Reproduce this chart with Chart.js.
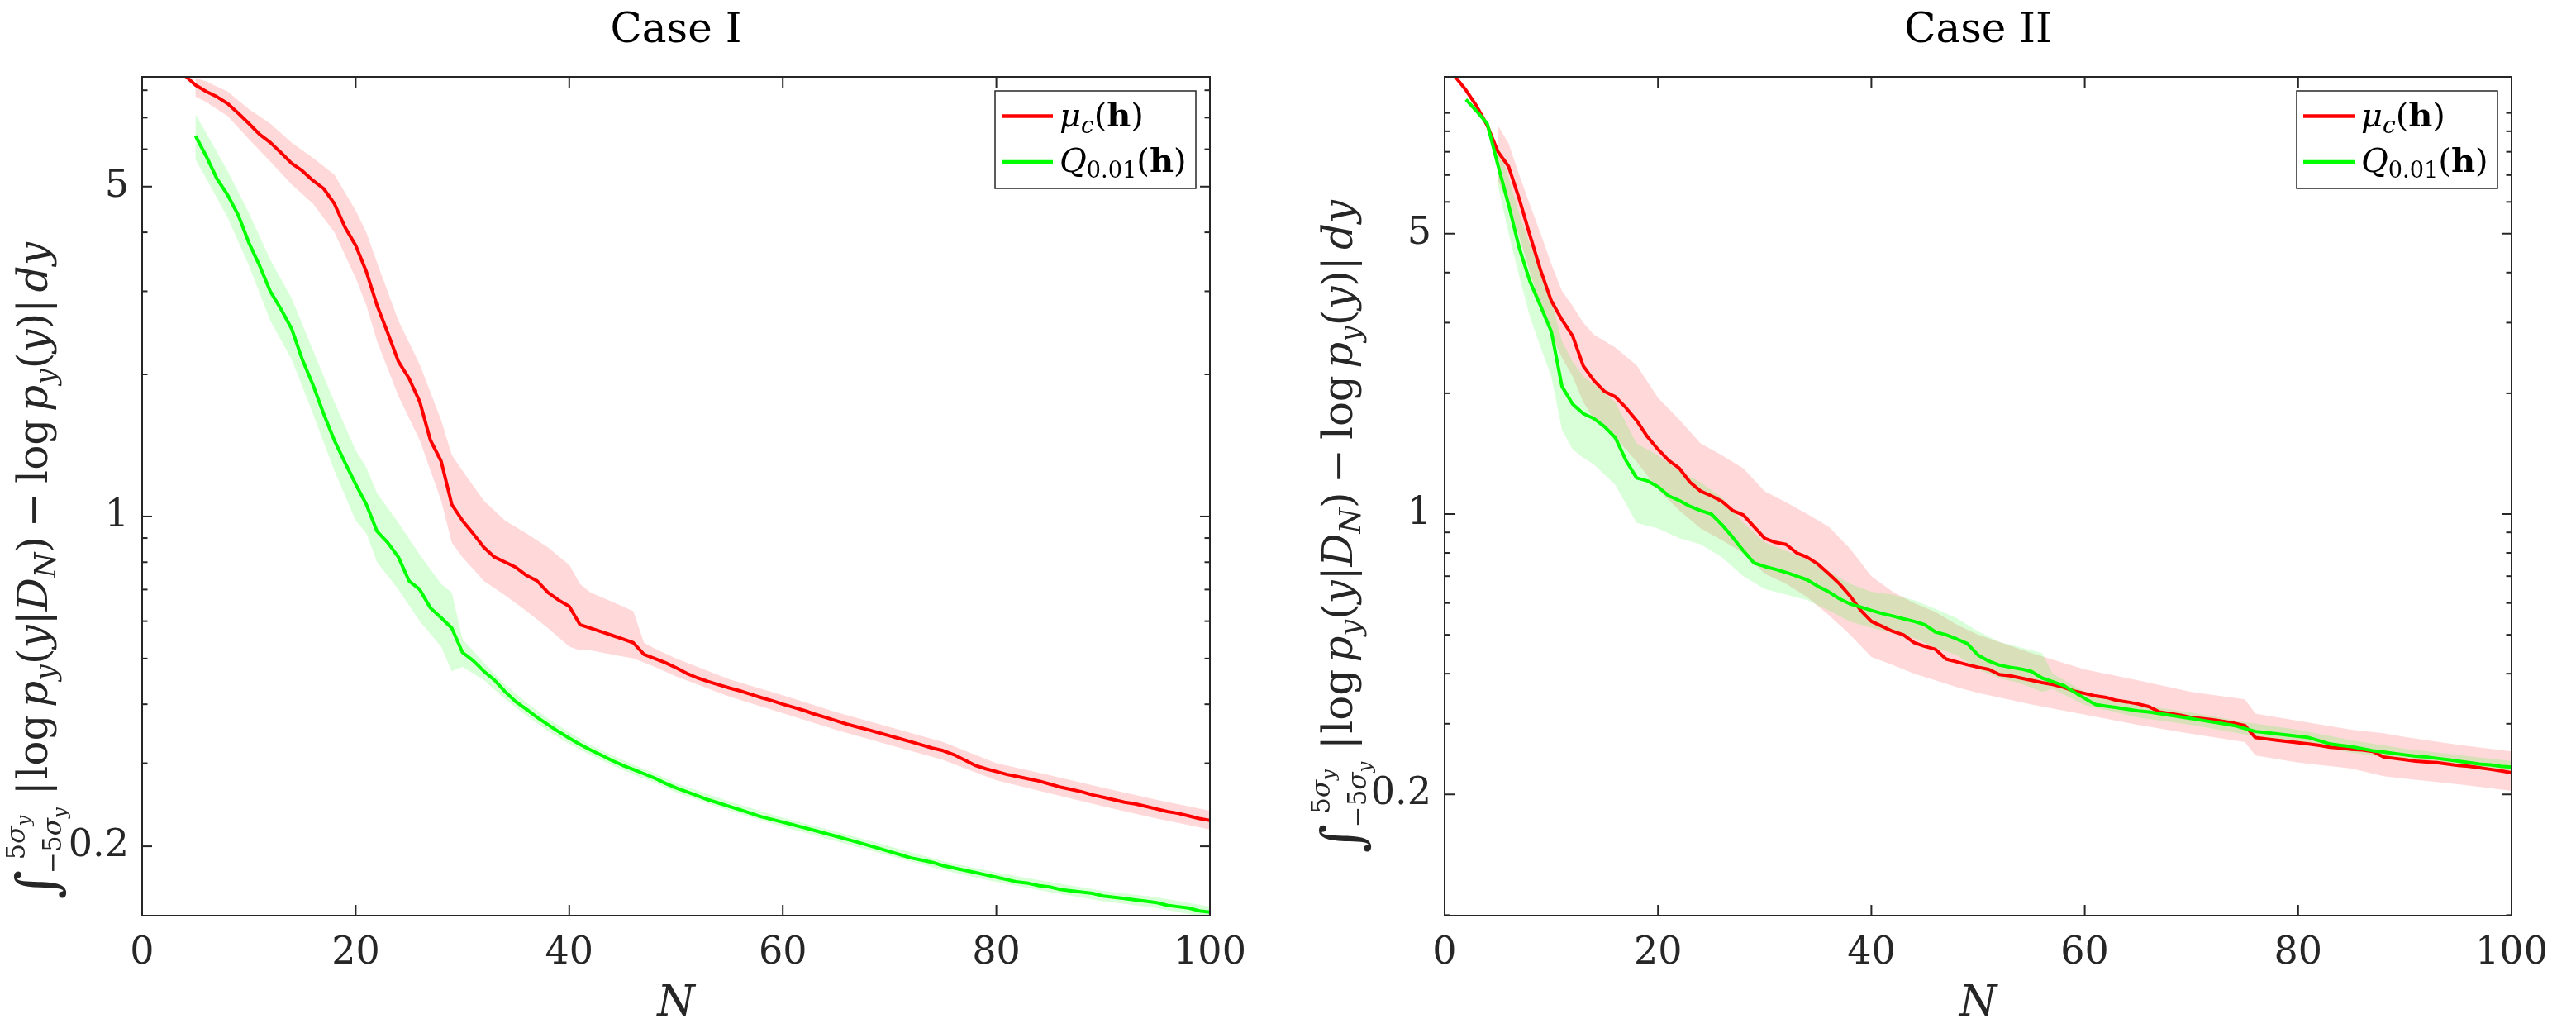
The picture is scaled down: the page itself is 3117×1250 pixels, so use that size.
<!DOCTYPE html>
<html>
<head>
<meta charset="utf-8">
<script src="https://cdn.jsdelivr.net/npm/chart.js@4.4.1/dist/chart.umd.min.js"></script>
<style>
  body { margin: 0; background: #fff; width: 3117px; height: 1250px; overflow: hidden; position: relative; }
  .pane { position: absolute; top: 0; height: 1250px; }
  #p1 { left: 0; width: 1560px; }
  #p2 { left: 1560px; width: 1557px; }
</style>
</head>
<body>
<div class="pane" id="p1"><canvas id="c1"></canvas></div>
<div class="pane" id="p2"><canvas id="c2"></canvas></div>
<script>
// ---- data ----
const xTicks = [0, 20, 40, 60, 80, 100];
const yTicks = [0.2, 1, 5];
const minorTicks = [0.1, 0.3, 0.4, 0.5, 0.6, 0.7, 0.8, 0.9, 2, 3, 4, 6, 7, 8, 9, 10];

// Case I
const redStart1 = 4, greenStart1 = 5;
const red1 = [
  8.6, 8.2, 7.95, 7.75, 7.5, 7.15,
  6.8, 6.45, 6.2, 5.9, 5.6, 5.4, 5.15, 4.95, 4.6, 4.1,
  3.75, 3.3, 2.8, 2.45, 2.13, 1.96, 1.75, 1.45, 1.31, 1.06,
  0.98, 0.92, 0.86, 0.82, 0.80, 0.78, 0.75, 0.73, 0.69, 0.665,
  0.645, 0.59, 0.58, 0.57, 0.56, 0.55, 0.54, 0.51, 0.50, 0.49,
  0.478, 0.465, 0.455, 0.447, 0.44, 0.433, 0.427, 0.42, 0.413, 0.407,
  0.40, 0.394, 0.388, 0.381, 0.375, 0.369, 0.363, 0.358, 0.353, 0.348,
  0.343, 0.338, 0.333, 0.328, 0.323, 0.319, 0.313, 0.305, 0.297, 0.292,
  0.288, 0.284, 0.281, 0.278, 0.275, 0.271, 0.267, 0.264, 0.261, 0.257,
  0.254, 0.251, 0.248, 0.246, 0.243, 0.240, 0.237, 0.235, 0.232, 0.229,
  0.227
];
const green1 = [
  6.4, 5.8, 5.2, 4.8, 4.35,
  3.8, 3.4, 3.0, 2.75, 2.5, 2.15, 1.9, 1.65, 1.45, 1.3,
  1.17, 1.06, 0.93, 0.88, 0.82, 0.73, 0.70, 0.64, 0.61, 0.58,
  0.515, 0.495, 0.47, 0.45, 0.425, 0.405, 0.39, 0.375, 0.362, 0.35,
  0.339, 0.329, 0.32, 0.312, 0.304, 0.297, 0.291, 0.285, 0.279, 0.272,
  0.266, 0.261, 0.256, 0.251, 0.247, 0.243, 0.239, 0.235, 0.231, 0.228,
  0.225, 0.222, 0.219, 0.216, 0.213, 0.210, 0.207, 0.204, 0.201, 0.198,
  0.195, 0.192, 0.189, 0.187, 0.185, 0.182, 0.180, 0.178, 0.176, 0.174,
  0.172, 0.170, 0.168, 0.167, 0.165, 0.164, 0.162, 0.161, 0.160, 0.159,
  0.157, 0.156, 0.155, 0.154, 0.153, 0.152, 0.150, 0.149, 0.148, 0.146,
  0.145
];
const redBandN1 = [5,6,8,10,12,14,16,18,20,21,22,24,26,28,29,30,32,34,36,38,40,41,42,44,46,47,48,50,55,60,65,70,75,80,85,90,95,100];
const redHi1 = [8.5,8.35,7.95,7.3,6.8,6.2,5.75,5.3,4.45,4.0,3.45,2.6,2.1,1.6,1.35,1.25,1.08,0.98,0.92,0.86,0.79,0.72,0.69,0.66,0.63,0.54,0.525,0.50,0.452,0.418,0.385,0.358,0.333,0.30,0.283,0.266,0.251,0.238];
const redLo1 = [7.75,7.55,7.05,6.3,5.65,5.05,4.6,4.0,3.2,2.8,2.35,1.8,1.45,1.08,0.88,0.82,0.73,0.68,0.63,0.58,0.53,0.52,0.52,0.51,0.50,0.49,0.48,0.458,0.415,0.383,0.353,0.328,0.305,0.276,0.259,0.243,0.229,0.217];
const greenBandN1 = [5,6,8,10,12,14,16,18,20,21,22,24,26,28,29,30,32,34,36,38,40,42,44,46,48,50,55,60,65,70,75,80,85,90,95,100];
const greenHi1 = [7.1,6.5,5.4,4.4,3.5,2.9,2.25,1.75,1.38,1.27,1.12,0.97,0.83,0.72,0.69,0.55,0.49,0.44,0.403,0.373,0.349,0.328,0.312,0.298,0.286,0.272,0.249,0.230,0.215,0.200,0.186,0.176,0.168,0.161,0.156,0.149];
const greenLo1 = [5.7,5.2,4.3,3.4,2.6,2.15,1.65,1.25,0.98,0.92,0.80,0.70,0.60,0.53,0.47,0.48,0.45,0.41,0.378,0.351,0.33,0.312,0.297,0.284,0.273,0.260,0.238,0.220,0.205,0.191,0.178,0.168,0.160,0.153,0.148,0.141];

// Case II
const redStart2 = 1, greenStart2 = 2;
const red2 = [
  12.3, 11.4, 10.4, 9.3, 8.0, 7.35, 6.1, 4.95, 4.05,
  3.4, 3.05, 2.78, 2.34, 2.15, 2.02, 1.96, 1.84, 1.71, 1.56,
  1.45, 1.36, 1.30, 1.20, 1.14, 1.11, 1.075, 1.02, 0.995, 0.93,
  0.87, 0.85, 0.84, 0.80, 0.78, 0.75, 0.71, 0.67, 0.625, 0.575,
  0.54, 0.525, 0.51, 0.50, 0.478, 0.468, 0.46, 0.435, 0.428, 0.421,
  0.415, 0.41, 0.398, 0.395, 0.39, 0.385, 0.38, 0.376, 0.37, 0.362,
  0.357, 0.352, 0.349, 0.343, 0.34, 0.336, 0.331, 0.321, 0.318, 0.315,
  0.311, 0.309, 0.307, 0.304, 0.301, 0.297, 0.277, 0.275, 0.273, 0.271,
  0.269, 0.267, 0.265, 0.262, 0.261, 0.259, 0.258, 0.256, 0.248, 0.246,
  0.244, 0.242, 0.241, 0.240, 0.238, 0.236, 0.235, 0.233, 0.231, 0.229,
  0.2265
];
const green2 = [
  10.8, 10.1, 9.4, 7.4, 5.9, 4.6, 3.8, 3.3,
  2.85, 2.08, 1.88, 1.78, 1.73, 1.65, 1.55, 1.36, 1.23, 1.21,
  1.17, 1.11, 1.08, 1.045, 1.02, 1.0, 0.94, 0.875, 0.81, 0.755,
  0.74, 0.728, 0.715, 0.70, 0.685, 0.66, 0.64, 0.615, 0.597, 0.586,
  0.575, 0.565, 0.557, 0.548, 0.54, 0.53, 0.508, 0.50, 0.488, 0.475,
  0.445, 0.43, 0.42, 0.415, 0.411, 0.405, 0.39, 0.382, 0.374, 0.36,
  0.347, 0.335, 0.332, 0.329, 0.326, 0.323, 0.321, 0.318, 0.315, 0.312,
  0.309, 0.306, 0.303, 0.300, 0.297, 0.292, 0.287, 0.285, 0.283, 0.281,
  0.279, 0.277, 0.272, 0.267, 0.265, 0.263, 0.26, 0.257, 0.255, 0.253,
  0.251, 0.249, 0.248, 0.246, 0.244, 0.242, 0.240, 0.238, 0.237, 0.235,
  0.234
];
const redBandN2 = [5,6,7,8,9,10,11,12,13,14,16,18,20,22,24,26,28,30,32,34,36,38,40,42,44,46,48,50,55,60,65,70,75,76,80,85,88,90,95,100];
const redHi2 = [9.3,8.4,7.0,5.9,5.0,4.2,3.6,3.3,3.0,2.8,2.6,2.35,1.95,1.72,1.5,1.4,1.3,1.14,1.07,1.0,0.93,0.82,0.7,0.64,0.6,0.57,0.53,0.5,0.45,0.41,0.385,0.36,0.345,0.318,0.305,0.29,0.284,0.278,0.266,0.256];
const redLo2 = [6.8,5.9,4.9,4.0,3.3,2.8,2.45,2.2,1.9,1.72,1.55,1.35,1.15,1.02,0.92,0.86,0.8,0.71,0.67,0.62,0.56,0.5,0.44,0.42,0.4,0.385,0.37,0.358,0.335,0.316,0.298,0.283,0.27,0.25,0.24,0.232,0.222,0.219,0.212,0.204];
const greenBandN2 = [5,6,7,8,9,10,11,12,13,14,16,18,20,22,24,26,28,30,32,34,36,38,40,42,44,46,48,50,52,54,56,57,60,65,70,75,80,85,90,95,100];
const greenHi2 = [8.3,6.9,5.6,4.7,4.0,3.4,2.7,2.4,2.2,2.1,1.9,1.5,1.4,1.28,1.2,1.1,0.95,0.85,0.81,0.77,0.72,0.67,0.64,0.63,0.61,0.58,0.55,0.51,0.48,0.465,0.45,0.4,0.36,0.335,0.32,0.303,0.29,0.273,0.26,0.251,0.242];
const greenLo2 = [6.6,5.0,3.9,3.1,2.6,2.2,1.62,1.45,1.38,1.33,1.18,0.95,0.92,0.87,0.84,0.78,0.7,0.65,0.63,0.61,0.575,0.54,0.52,0.505,0.49,0.465,0.445,0.41,0.39,0.378,0.36,0.366,0.334,0.311,0.298,0.282,0.269,0.254,0.243,0.234,0.227];

// ---- helpers ----
const SERIF = '"DejaVu Serif", serif';
const INK = '#262626';

function linePts(start, vals) {
  return vals.map((v, i) => ({ x: start + i, y: v }));
}
function bandPts(ns, hi, lo) {
  const pts = ns.map((n, i) => ({ x: n, y: hi[i] }));
  for (let i = ns.length - 1; i >= 0; i--) pts.push({ x: ns[i], y: lo[i] });
  return pts;
}

// pieces of the math labels
const yLabelParts = [
  { t: '∫', f: 'rm', s: 1.35, dy: 0.22, at: 0 },
  { t: '−5', f: 'rm', s: 0.62, dy: 0.34, at: 0.62 },
  { t: 'σ', f: 'it', s: 0.62, dy: 0.34, cont: true },
  { t: 'y', f: 'it', s: 0.45, dy: 0.46, cont: true },
  { t: '5', f: 'rm', s: 0.62, dy: -0.55, at: 0.95 },
  { t: 'σ', f: 'it', s: 0.62, dy: -0.55, cont: true },
  { t: 'y', f: 'it', s: 0.45, dy: -0.43, cont: true },
  { t: '|', f: 'rm', gap: 0.3 },
  { t: 'log', f: 'rm', gap: 0.05 },
  { t: 'p', f: 'it', gap: 0.17 },
  { t: 'y', f: 'it', s: 0.7, dy: 0.2 },
  { t: '(', f: 'rm' }, { t: 'y', f: 'it' }, { t: '|', f: 'rm' }, { t: 'D', f: 'it' },
  { t: 'N', f: 'it', s: 0.7, dy: 0.2 }, { t: ')', f: 'rm' },
  { t: '−', f: 'rm', gap: 0.22 },
  { t: 'log', f: 'rm', gap: 0.22 },
  { t: 'p', f: 'it', gap: 0.17 },
  { t: 'y', f: 'it', s: 0.7, dy: 0.2 },
  { t: '(', f: 'rm' }, { t: 'y', f: 'it' }, { t: ')', f: 'rm' }, { t: '|', f: 'rm' },
  { t: 'd', f: 'it', gap: 0.17 }, { t: 'y', f: 'it' }
];
const legendRed = [
  { t: 'μ', f: 'it' }, { t: 'c', f: 'it', s: 0.7, dy: 0.2 },
  { t: '(', f: 'rm' }, { t: 'h', f: 'bf' }, { t: ')', f: 'rm' }
];
const legendGreen = [
  { t: 'Q', f: 'it' }, { t: '0.01', f: 'rm', s: 0.68, dy: 0.18 },
  { t: '(', f: 'rm' }, { t: 'h', f: 'bf' }, { t: ')', f: 'rm' }
];

function fontFor(p, size) {
  if (p.f === 'it') return 'italic ' + size + 'px ' + SERIF;
  if (p.f === 'bf') return 'bold ' + size + 'px ' + SERIF;
  return size + 'px ' + SERIF;
}
function layoutRun(ctx, parts, F) {
  let cur = 0, maxEnd = 0;
  const items = [];
  parts.forEach(p => {
    const size = F * (p.s || 1);
    ctx.font = fontFor(p, size);
    const w = ctx.measureText(p.t).width;
    let x;
    if (p.at !== undefined) x = p.at * F;
    else if (p.cont) x = cur;
    else x = maxEnd + (p.gap || 0) * F;
    items.push({ p: p, x: x, size: size, dy: (p.dy || 0) * F });
    cur = x + w;
    maxEnd = Math.max(maxEnd, cur);
  });
  return { items: items, width: maxEnd };
}
function drawRun(ctx, run, ox, oy) {
  run.items.forEach(it => {
    ctx.font = fontFor(it.p, it.size);
    ctx.fillText(it.p.t, ox + it.x, oy + it.dy);
  });
}
function seg(ctx, x1, y1, x2, y2) {
  ctx.beginPath(); ctx.moveTo(x1, y1); ctx.lineTo(x2, y2); ctx.stroke();
}

// axes box, inward ticks, titles, labels and legend in the MATLAB look
const matlabFrame = {
  id: 'matlabFrame',
  afterDraw(chart, args, o) {
    const ctx = chart.ctx, a = chart.chartArea;
    const x = chart.scales.x, y = chart.scales.y;
    ctx.save();
    ctx.strokeStyle = INK;
    ctx.lineWidth = 2;
    ctx.strokeRect(a.left, a.top, a.right - a.left, a.bottom - a.top);
    xTicks.forEach(v => {
      const px = x.getPixelForValue(v);
      seg(ctx, px, a.bottom, px, a.bottom - 13);
      seg(ctx, px, a.top, px, a.top + 13);
    });
    yTicks.forEach(v => {
      const py = y.getPixelForValue(v);
      seg(ctx, a.left, py, a.left + 12, py);
      seg(ctx, a.right, py, a.right - 12, py);
    });
    minorTicks.filter(v => v >= y.min * 0.999 && v <= y.max).forEach(v => {
      const py = y.getPixelForValue(v);
      seg(ctx, a.left, py, a.left + 6.5, py);
      seg(ctx, a.right, py, a.right - 6.5, py);
    });

    const cx = (a.left + a.right) / 2;
    ctx.textAlign = 'center';
    ctx.textBaseline = 'alphabetic';
    ctx.fillStyle = '#000';
    ctx.font = '50px ' + SERIF;
    ctx.fillText(o.title, cx, 51);
    ctx.fillStyle = INK;
    ctx.font = 'italic 52px ' + SERIF;
    ctx.fillText('N', cx, 1229);

    // rotated y label, condensed along its length to the reference span
    ctx.textAlign = 'left';
    ctx.save();
    ctx.translate(a.left - o.yBase, o.yStart);
    ctx.rotate(-Math.PI / 2);
    const run = layoutRun(ctx, yLabelParts, 50);
    ctx.scale(o.yLen / run.width, 1);
    drawRun(ctx, run, 0, 0);
    ctx.restore();

    // legend
    const bw = 243, bh = 118;
    const bx = a.right - 17 - bw, by = a.top + 17;
    ctx.fillStyle = '#fff';
    ctx.fillRect(bx, by, bw, bh);
    ctx.lineWidth = 1.5;
    ctx.strokeRect(bx, by, bw, bh);
    ctx.lineWidth = 4.5;
    ctx.strokeStyle = '#ff0000';
    seg(ctx, bx + 8, by + 30.5, bx + 70, by + 30.5);
    ctx.strokeStyle = '#00ff00';
    seg(ctx, bx + 8, by + 86, bx + 70, by + 86);
    ctx.fillStyle = '#000';
    drawRun(ctx, layoutRun(ctx, legendRed, 40), bx + 78, by + 42.5);
    drawRun(ctx, layoutRun(ctx, legendGreen, 40), bx + 78, by + 98);
    ctx.restore();
  }
};

function makeChart(id, cfg) {
  return new Chart(document.getElementById(id), {
    type: 'scatter',
    data: {
      datasets: [
        { data: bandPts(cfg.redBandN, cfg.redHi, cfg.redLo), showLine: true, fill: 'shape',
          backgroundColor: 'rgba(255,0,0,0.15)', borderWidth: 0, pointRadius: 0, order: 4 },
        { data: bandPts(cfg.greenBandN, cfg.greenHi, cfg.greenLo), showLine: true, fill: 'shape',
          backgroundColor: 'rgba(0,255,0,0.15)', borderWidth: 0, pointRadius: 0, order: 3 },
        { label: 'mu_c(h)', data: linePts(cfg.redStart, cfg.red), showLine: true, borderColor: '#ff0000',
          borderWidth: 4, pointRadius: 0, borderJoinStyle: 'round', fill: false, order: 2 },
        { label: 'Q_0.01(h)', data: linePts(cfg.greenStart, cfg.green), showLine: true, borderColor: '#00ff00',
          borderWidth: 4, pointRadius: 0, borderJoinStyle: 'round', fill: false, order: 1 }
      ]
    },
    options: {
      responsive: true,
      maintainAspectRatio: false,
      devicePixelRatio: 1,
      animation: false,
      layout: { padding: { left: 0, top: 93, right: cfg.padRight, bottom: 0 } },
      plugins: {
        legend: { display: false },
        tooltip: { enabled: false },
        matlabFrame: { title: cfg.title, yStart: cfg.yStart, yLen: cfg.yLen, yBase: cfg.yBase }
      },
      scales: {
        x: {
          type: 'linear', min: 0, max: 100,
          grid: { display: false, drawTicks: false },
          border: { display: false },
          ticks: { stepSize: 20, padding: 18, color: INK, font: { family: SERIF, size: 46 } },
          afterFit(s) { s.height = 142; }
        },
        y: {
          type: 'logarithmic', min: cfg.yMin, max: cfg.yMax,
          grid: { display: false, drawTicks: false },
          border: { display: false },
          afterBuildTicks(s) { s.ticks = yTicks.map(v => ({ value: v })); },
          ticks: { autoSkip: false, padding: 16, color: INK, font: { family: SERIF, size: 46 },
                   callback: v => String(v) },
          afterFit(s) { s.width = cfg.yWidth; }
        }
      }
    },
    plugins: [matlabFrame]
  });
}

makeChart('c1', {
  title: 'Case I', yMin: 0.1426, yMax: 8.54, yWidth: 172, padRight: 96,
  yStart: 1088, yLen: 795, yBase: 115,
  redStart: redStart1, red: red1, greenStart: greenStart1, green: green1,
  redBandN: redBandN1, redHi: redHi1, redLo: redLo1,
  greenBandN: greenBandN1, greenHi: greenHi1, greenLo: greenLo1
});
makeChart('c2', {
  title: 'Case II', yMin: 0.0997, yMax: 12.3, yWidth: 188, padRight: 78,
  yStart: 1032, yLen: 790, yBase: 112,
  redStart: redStart2, red: red2, greenStart: greenStart2, green: green2,
  redBandN: redBandN2, redHi: redHi2, redLo: redLo2,
  greenBandN: greenBandN2, greenHi: greenHi2, greenLo: greenLo2
});
</script>
</body>
</html>
